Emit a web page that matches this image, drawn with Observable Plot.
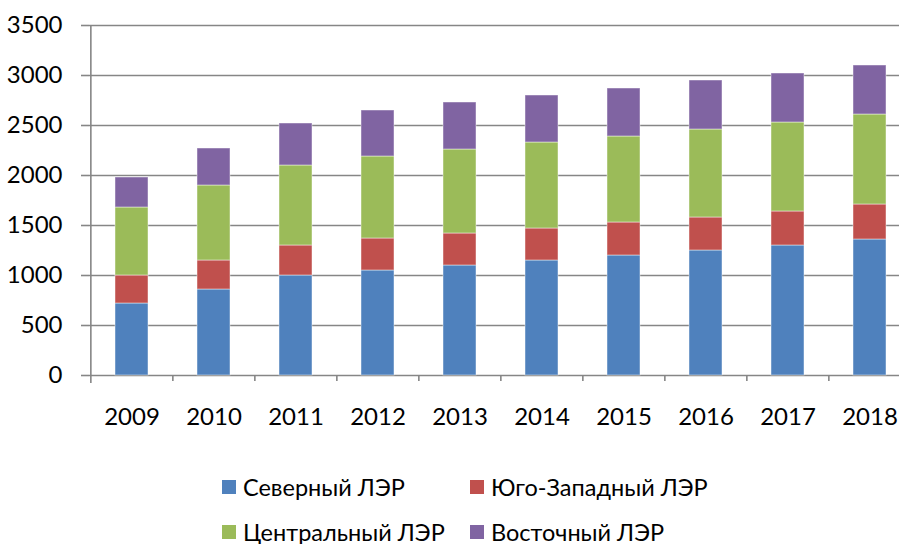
<!DOCTYPE html>
<html>
<head>
<meta charset="utf-8">
<script src="https://cdn.jsdelivr.net/npm/d3@7"></script>
<script src="https://cdn.jsdelivr.net/npm/@observablehq/plot@0.6"></script>
<style>
  html, body { margin: 0; padding: 0; background: #fff; }
  #wrap { width: 899px; height: 544px; position: relative; overflow: hidden; font-family: "Lato", sans-serif; }
  .legend { position: absolute; left: 0; top: 0; width: 899px; height: 544px; pointer-events: none; }
  .item { position: absolute; display: flex; align-items: center; font-size: 23.5px; color: #000; white-space: nowrap; }
  .sw { width: 14px; height: 14px; margin-right: 7px; }
</style>
</head>
<body>
<div id="wrap"></div>
<script>
const years = ["2009", "2010", "2011", "2012", "2013", "2014", "2015", "2016", "2017", "2018"];
const seriesNames = ["Северный ЛЭР", "Юго-Западный ЛЭР", "Центральный ЛЭР", "Восточный ЛЭР"];
const seriesColors = ["#4F81BD", "#C0504D", "#9BBB59", "#8064A2"];
const north = [720, 860, 1000, 1050, 1100, 1150, 1200, 1250, 1300, 1360];
const southwest = [280, 290, 300, 320, 320, 320, 330, 330, 340, 350];
const central = [680, 750, 800, 820, 840, 860, 860, 880, 890, 900];
const east = [300, 370, 420, 460, 470, 470, 480, 490, 490, 490];
const yTicks = [0, 500, 1000, 1500, 2000, 2500, 3000, 3500];

const seriesValues = [north, southwest, central, east];
const table = [];
seriesValues.forEach((vals, s) => {
  vals.forEach((v, i) => table.push({year: years[i], series: seriesNames[s], value: v}));
});

const left = 89, right = 912;
const step = (right - left) / years.length;
const gray = "#868686";

const chart = Plot.plot({
  width: 899,
  height: 445,
  marginLeft: 89,
  marginRight: 0,
  marginTop: 25,
  marginBottom: 70,
  style: {fontFamily: "Lato, sans-serif", fontSize: "24px", color: "#000", background: "#fff"},
  x: {domain: years, range: [left, right], paddingInner: 0.6, paddingOuter: 0.3, axis: null},
  y: {domain: [0, 3500], axis: null},
  color: {domain: seriesNames, range: seriesColors},
  marks: [
    Plot.ruleY(yTicks, {stroke: gray, strokeWidth: 1.6}),
    Plot.axisY({ticks: yTicks, label: null, tickSize: 8, tickPadding: 19, stroke: gray, strokeWidth: 1.6, fill: "#000", fontSize: 24, tickFormat: d => String(d)}),
    Plot.ruleX([years[0]], {x: d => d, dx: -step / 2, y1: -80, y2: 3500, stroke: gray, strokeWidth: 1.6}),
    Plot.ruleX(years.slice(1), {x: d => d, dx: -step / 2, y1: -60, y2: 0, stroke: gray, strokeWidth: 1.6}),
    Plot.barY(table, {x: "year", y: "value", fill: "series", stroke: "#fff", strokeOpacity: 0.45, strokeWidth: 1}),
    Plot.text(years, {x: d => d, y: 0, text: d => d, dy: 42, fontSize: 24, fill: "#000", lineAnchor: "middle"})
  ]
});

const wrap = document.getElementById("wrap");
wrap.appendChild(chart);

const legend = document.createElement("div");
legend.className = "legend";
const pos = [[222, 487], [470, 487], [222, 532], [470, 532]];
seriesNames.forEach((name, i) => {
  const it = document.createElement("div");
  it.className = "item";
  it.style.left = pos[i][0] + "px";
  it.style.top = (pos[i][1] - 15) + "px";
  it.style.height = "30px";
  const sw = document.createElement("span");
  sw.className = "sw";
  sw.style.background = seriesColors[i];
  it.appendChild(sw);
  const t = document.createElement("span");
  t.textContent = name;
  it.appendChild(t);
  legend.appendChild(it);
});
wrap.appendChild(legend);
</script>
</body>
</html>
